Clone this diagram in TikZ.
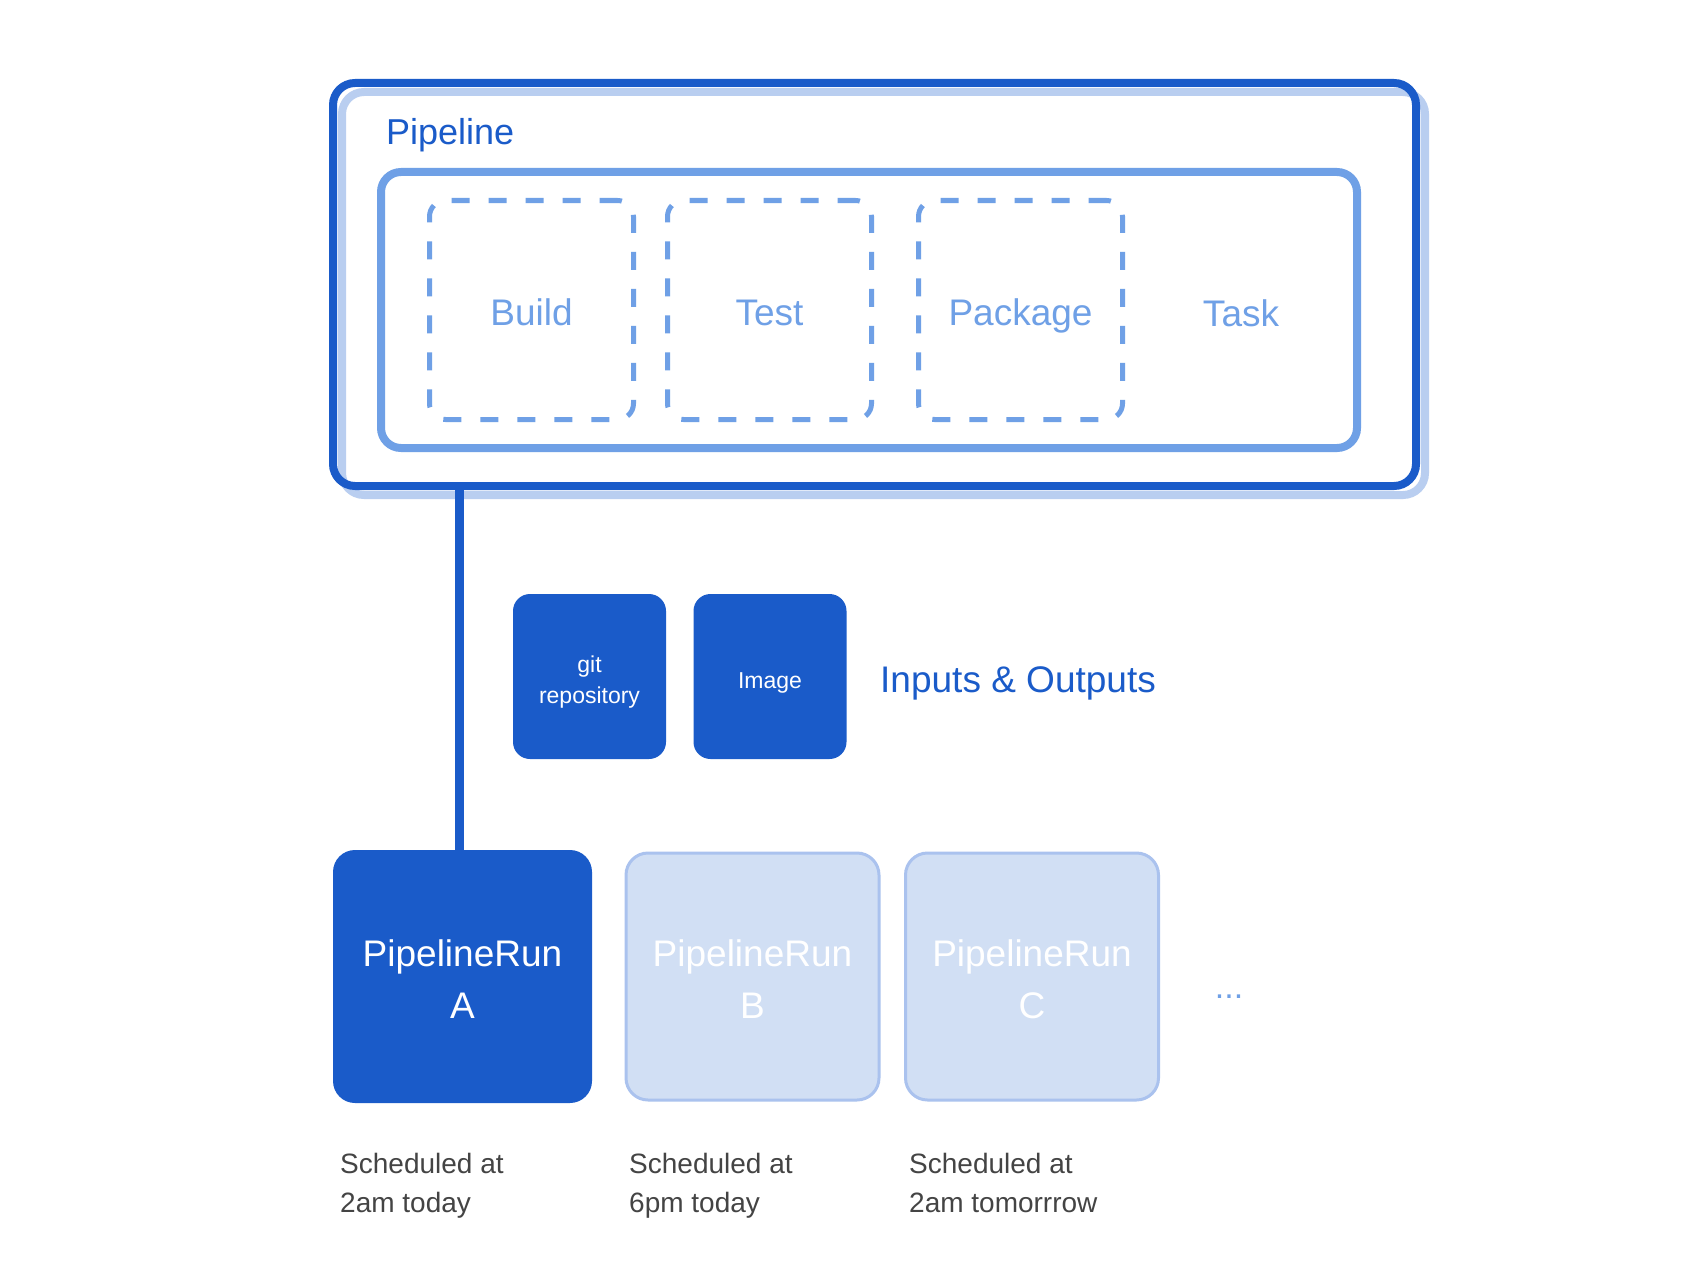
\documentclass[tikz,border=0pt]{standalone}
\usepackage{fontspec}
\setmainfont{Liberation Sans}
\definecolor{dblue}{RGB}{26,91,201}
\definecolor{tblue}{RGB}{111,160,230}
\definecolor{sblue}{RGB}{185,206,240}
\definecolor{rfill}{RGB}{209,223,244}
\definecolor{rborder}{RGB}{170,194,238}
\definecolor{gtext}{RGB}{68,68,68}
\tikzset{
  pipebox/.style={draw=dblue, line width=8pt, rounded corners=22pt, minimum width=1083pt, minimum height=403pt, inner sep=0pt, outer sep=0pt},
  pipeshadow/.style={draw=sblue, line width=8pt, rounded corners=22pt, minimum width=1083pt, minimum height=403pt, inner sep=0pt, outer sep=0pt},
  taskbox/.style={draw=tblue, line width=8pt, rounded corners=20pt, minimum width=976pt, minimum height=276pt, inner sep=0pt},
  stepbox/.style={draw=tblue, line width=5pt, dash pattern=on 18pt off 19pt, rounded corners=16pt, minimum width=204pt, minimum height=219pt, inner sep=0pt, text=tblue, font=\fontsize{37}{44}\selectfont, text height=30pt, text depth=0pt},
  tasklabel/.style={text=tblue, font=\fontsize{37}{44}\selectfont, inner sep=0pt},
  iobox/.style={fill=dblue, rounded corners=17pt, minimum width=153pt, minimum height=165pt, inner sep=0pt, text=white, align=center, font=\fontsize{23}{31}\selectfont, text depth=0pt},
  runA/.style={fill=dblue, rounded corners=22pt, minimum width=259pt, minimum height=253pt, inner sep=0pt, text=white, align=center, font=\fontsize{37}{52}\selectfont, outer sep=0pt, text height=84pt, text depth=0pt},
  runL/.style={fill=rfill, draw=rborder, line width=3pt, rounded corners=22pt, minimum width=253pt, minimum height=247pt, inner sep=0pt, text=white, align=center, font=\fontsize{37}{52}\selectfont, text height=84pt, text depth=0pt},
  sched/.style={text=gtext, align=left, inner sep=0pt, font=\fontsize{28}{39}\selectfont},
  conn/.style={draw=dblue, line width=9pt}
}
\begin{document}
\begin{tikzpicture}[x=1pt,y=-1pt]
\useasboundingbox[fill=white] (0,0) rectangle (1696,1284);
% pipeline outer box
\node[pipeshadow] (pshadow) at (883.5,293.5) {};
\node[pipebox] (pipeline) at (874.5,284.5) {};
\node[text=dblue, font=\fontsize{36}{43}\selectfont, inner sep=0pt, anchor=base west] (ptitle) at (386,145) {Pipeline};
% task box
\node[taskbox] (task) at (869,310) {};
\node[stepbox] (build) at (531.5,310) {Build};
\node[stepbox] (test) at (769.5,310) {Test};
\node[stepbox] (package) at (1020.5,310) {Package};
\node[tasklabel, anchor=base] (tasklbl) at (1241,326) {Task};
% inputs & outputs
\node[iobox, text height=54pt] (git) at (589.5,676.5) {git\\repository};
\node[iobox, text height=23pt] (image) at (770,676.5) {Image};
\node[text=dblue, font=\fontsize{37}{44}\selectfont, inner sep=0pt, anchor=base west] (io) at (880,692) {Inputs \& Outputs};
% pipeline runs
\node[runA] (ra) at (462.5,976.5) {PipelineRun\\A};
\node[runL] (rb) at (752.5,976.5) {PipelineRun\\B};
\node[runL] (rc) at (1032,976.5) {PipelineRun\\C};
\node[text=tblue, font=\fontsize{34}{40}\selectfont, inner sep=0pt] (dots) at (1229,997) {...};
% connector
\draw[conn] ([xshift=-3pt]ra.north |- pipeline.south) -- ([xshift=-3pt]ra.north);
% schedules
\node[sched, anchor=north west] (sa) at (340,1153) {Scheduled at\\2am today};
\node[sched, anchor=north west] (sb) at (629,1153) {Scheduled at\\6pm today};
\node[sched, anchor=north west] (sc) at (909,1153) {Scheduled at\\2am tomorrrow};
\end{tikzpicture}
\end{document}
